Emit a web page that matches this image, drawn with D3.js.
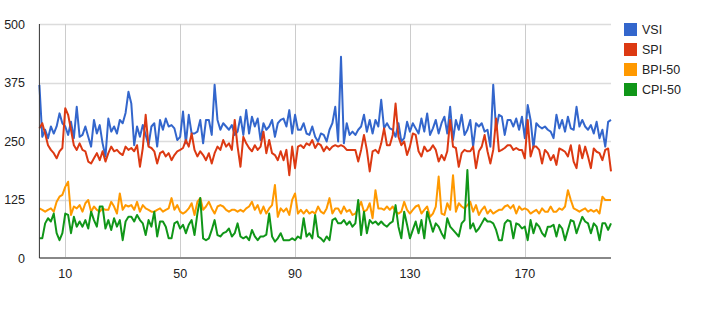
<!DOCTYPE html>
<html><head><meta charset="utf-8">
<script src="https://cdn.jsdelivr.net/npm/d3@7"></script>
<style>
  body{margin:0;background:#fff;font-family:Arial,"Liberation Sans",sans-serif;}
  svg text{fill:#222;font-size:12.5px;}
</style></head>
<body><div id="chart"></div>
<script>
const SERIES = ['VSI', 'SPI', 'BPI-50', 'CPI-50'];
const COLORS = ['#3366cc', '#dc3912', '#ff9900', '#109618'];
const Y_TICKS = [0, 125, 250, 375, 500];
const X_TICKS = [10, 50, 90, 130, 170];

const VSI = [370,259,274,256,281,266,281,309,288,281,263,291,256,323,259,263,281,259,238,295,266,284,245,217,298,270,281,266,295,288,310,355,
  330,241,281,259,284,263,241,281,288,238,295,274,298,281,284,277,252,259,313,245,306,266,266,270,295,245,295,295,263,370,295,274,288,
  281,274,284,263,270,302,263,316,266,302,281,298,252,288,274,281,295,259,288,295,298,281,316,266,306,274,274,288,266,263,281,259,249,
  266,263,249,274,288,323,249,430,245,288,263,270,263,274,281,306,270,295,266,295,281,338,277,288,277,274,259,288,249,256,291,270,288,
  277,266,298,270,309,263,277,295,266,288,302,266,323,252,295,274,306,263,274,295,238,288,281,288,270,274,238,370,274,306,302,263,295,
  295,281,298,274,302,256,327,295,235,288,281,277,281,274,270,256,306,277,295,270,302,277,274,323,281,295,281,274,284,266,291,256,274,238,291,295];
const SPI = [277,288,266,241,231,224,213,228,235,320,306,274,241,231,245,231,228,206,202,213,224,209,228,206,224,238,228,231,224,220,238,231,
  235,228,241,195,235,306,238,235,228,202,224,228,217,224,209,220,228,231,235,252,238,266,231,217,228,220,209,224,202,224,238,231,252,
  238,245,231,295,238,195,259,245,235,228,241,231,238,270,224,252,224,220,209,228,209,231,177,238,192,238,241,235,245,241,252,235,245,
  241,228,238,231,238,241,238,241,238,231,231,231,231,206,231,263,231,185,228,231,224,245,277,241,241,263,330,259,241,249,220,238,266,
  263,228,217,238,228,231,241,231,206,220,209,228,295,238,235,195,224,231,228,228,238,192,228,238,263,228,202,231,298,228,231,235,241,
  241,231,235,231,231,213,295,217,238,238,231,202,231,224,209,220,199,234,231,227,217,241,206,192,241,213,238,217,192,234,227,224,209,231,234,185];
const BPI = [106,103,99,103,106,99,120,131,135,152,163,92,110,106,113,99,117,124,99,110,103,99,106,103,103,120,110,95,138,103,113,110,
  113,103,120,99,113,106,103,99,99,103,106,99,103,106,128,103,113,99,95,99,106,117,92,120,128,103,110,120,106,95,110,113,110,
  103,99,103,103,99,103,99,106,110,120,103,113,95,110,95,106,113,156,88,106,99,106,92,124,138,95,103,95,103,95,99,95,110,
  99,95,106,128,95,106,106,95,110,99,103,92,95,106,120,99,103,117,85,145,106,106,103,110,103,110,99,95,99,120,103,95,103,
  110,113,95,103,110,88,95,110,174,95,92,117,103,177,99,117,110,106,113,120,99,113,92,103,110,95,103,95,99,103,103,110,113,
  106,113,95,110,103,106,103,95,99,103,95,106,99,99,110,99,99,106,103,110,145,124,106,103,99,103,106,99,103,99,103,95,131,124,124,124];
const CPI = [42,42,74,85,78,95,53,38,53,95,92,53,88,67,78,67,81,63,99,81,67,110,110,63,81,60,85,67,81,38,78,88,
  88,78,92,81,74,49,81,67,99,46,78,78,67,42,42,74,78,63,71,53,71,81,49,95,128,42,38,42,60,81,49,46,53,
  56,63,46,53,74,46,42,46,38,60,46,38,46,46,50,95,46,35,42,53,38,38,38,42,38,46,42,85,46,53,42,92,46,
  42,35,46,38,81,85,74,74,81,71,78,67,74,124,49,99,53,81,74,78,71,78,71,67,74,78,113,67,42,99,71,42,60,
  78,53,81,42,99,78,56,74,67,53,42,85,67,60,53,46,74,81,188,63,74,56,63,74,85,78,78,74,60,38,38,74,81,
  78,42,74,71,63,67,38,81,53,74,67,53,46,67,67,71,46,71,63,38,60,81,78,53,71,88,78,74,53,74,67,38,74,74,60,74];
const DATA = [VSI, SPI, BPI, CPI];

const W = 721, H = 333;
const m = { l: 39.4, r: 110, t: 24, b: 75 };
const svg = d3.select('#chart').append('svg').attr('width', W).attr('height', H);

const x = d3.scaleLinear().domain([1, VSI.length]).range([m.l, W - m.r]);
const y = d3.scaleLinear().domain([0, 500]).range([H - m.b, m.t]);

// gridlines
svg.append('g').selectAll('line').data(Y_TICKS.filter(d => d > 0)).join('line')
  .attr('x1', m.l).attr('x2', W - m.r).attr('y1', d => Math.round(y(d)) + 0.5).attr('y2', d => Math.round(y(d)) + 0.5)
  .attr('stroke', '#dcdcdc').attr('stroke-width', 1.5);
svg.append('g').selectAll('line').data(X_TICKS).join('line')
  .attr('x1', d => Math.round(x(d)) + 0.5).attr('x2', d => Math.round(x(d)) + 0.5).attr('y1', m.t).attr('y2', H - m.b)
  .attr('stroke', '#cccccc').attr('stroke-width', 1);

// axis labels
svg.append('g').selectAll('text').data(Y_TICKS).join('text')
  .attr('x', 25).attr('y', d => y(d) + 4.5).attr('text-anchor', 'end').text(d => d);
svg.append('g').selectAll('text').data(X_TICKS).join('text')
  .attr('x', d => x(d)).attr('y', H - m.b + 20).attr('text-anchor', 'middle').text(d => d);

// lines
const line = d3.line().x((d, i) => x(i + 1)).y(d => y(d));
svg.append('g').selectAll('path').data(DATA).join('path')
  .attr('d', line).attr('fill', 'none').attr('stroke', (d, i) => COLORS[i])
  .attr('stroke-width', 2).attr('stroke-linejoin', 'round');

// axes lines
svg.append('line').attr('x1', m.l).attr('x2', W - m.r).attr('y1', y(0)).attr('y2', y(0))
  .attr('stroke', '#888').attr('stroke-width', 2);
svg.append('line').attr('x1', m.l).attr('x2', m.l).attr('y1', m.t).attr('y2', y(0))
  .attr('stroke', '#333').attr('stroke-width', 1);

// legend
const leg = svg.append('g').selectAll('g').data(SERIES).join('g')
  .attr('transform', (d, i) => `translate(624,${23 + i * 20})`);
leg.append('rect').attr('width', 13).attr('height', 13).attr('fill', (d, i) => COLORS[i]);
leg.append('text').attr('x', 18).attr('y', 11).attr('font-size', 13).text(d => d);
</script>
</body></html>
